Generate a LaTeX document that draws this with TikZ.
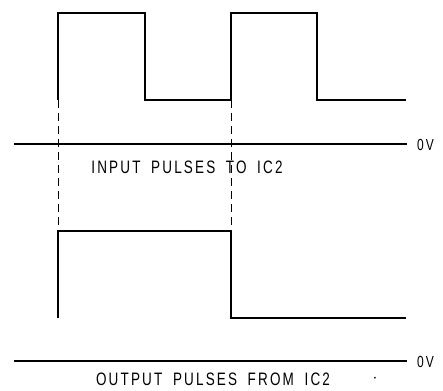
\documentclass[tikz,border=0pt]{standalone}
\usepackage{fontspec}
\newfontfamily\capfont[LetterSpace=12,FakeStretch=0.75,WordSpace=1.8]{Liberation Sans}
\tikzset{
  wave/.style={line width=2pt, line join=miter},
  zeroline/.style={line width=1.3pt},
  guide/.style={line width=0.8pt, dash pattern=on 8pt off 5pt},
  caption/.style={font=\capfont\fontsize{18}{18}\selectfont, inner sep=0pt},
  level/.style={font=\capfont\fontsize{16}{16}\selectfont, anchor=west, inner sep=0pt}
}
\begin{document}
\begin{tikzpicture}[x=1pt,y=-1pt]
    \useasboundingbox (0,0) rectangle (443,390);
    % input pulses
    \coordinate (inA) at (58,100);
    \coordinate (inB) at (231,100);
    \draw[wave] (inA) -- (58,13) -- (145,13) -- (145,100) -- (inB)
      -- (231,13) -- (317,13) -- (317,100) -- (406,100);
    \coordinate (inL) at (14,144);
    \coordinate (inR) at (407,144);
    \draw[zeroline] (inL) -- (inR);
    \node[level] (inv) at (417,145) {0V};
    \node[caption] (incap) at (187,167) {INPUT PULSES TO IC2};
    % output pulses
    \coordinate (outA) at (58,231);
    \coordinate (outB) at (231,231);
    \draw[wave] (58,318) -- (outA) -- (outB) -- (231,318) -- (406,318);
    \draw[guide] (inA) -- (outA);
    \draw[guide] (inB) -- (outB);
    \coordinate (outL) at (14,361);
    \coordinate (outR) at (407,361);
    \draw[wave] (outL) -- (outR);
    \node[level] (outv) at (417,362) {0V};
    \node[caption] (outcap) at (213,379) {OUTPUT PULSES FROM IC2};
    \node[caption] (dot) at (375,379) {$\cdot$};
  \end{tikzpicture}
\end{document}
